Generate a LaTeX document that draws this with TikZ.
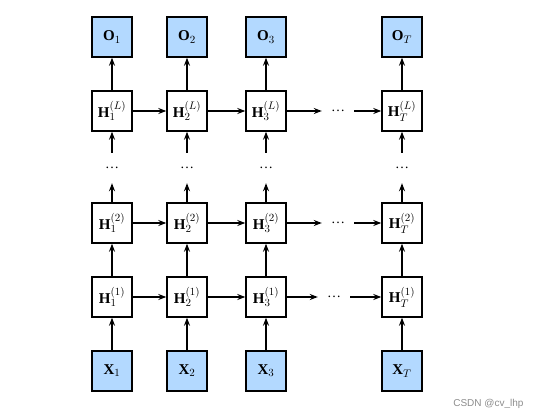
\documentclass[tikz,border=0pt]{standalone}
\usepackage{fontspec}
\setmainfont{Liberation Serif}
\newfontfamily\wmfont{Liberation Sans}
\usetikzlibrary{arrows.meta}
\definecolor{iofill}{RGB}{179,217,255}
\begin{document}
\begin{tikzpicture}[x=1pt,y=-1pt,
  box/.style={draw,line width=1.4pt,minimum size=40pt,inner sep=0pt,fill=white,font=\fontsize{15}{17}\selectfont},
  io/.style={box,fill=iofill},
  arr/.style={-{Stealth[length=8pt,width=6pt]},line width=1.2pt},
  hdots/.style={inner sep=0pt,minimum width=32pt,minimum height=10pt,font=\fontsize{14}{16}\selectfont},
  vdots/.style={inner sep=0pt,minimum height=30pt,minimum width=10pt,font=\fontsize{14}{16}\selectfont}]
\useasboundingbox (0,0) rectangle (542,418);
% columns
\foreach \c/\x/\s in {1/112/1,2/187/2,3/266/3,T/402/T}{
  \node[io]  (O\c)  at (\x,37)  {$\mathbf{O}_{\s}$};
  \node[box] (HL\c) at (\x,111) {$\mathbf{H}_{\s}^{(L)}$};
  \node[vdots] (D\c) at (\x,168) {\dots};
  \node[box] (H2\c) at (\x,223) {$\mathbf{H}_{\s}^{(2)}$};
  \node[box] (H1\c) at (\x,297) {$\mathbf{H}_{\s}^{(1)}$};
  \node[io]  (X\c)  at (\x,371) {$\mathbf{X}_{\s}$};
  \draw[arr] (X\c) -- (H1\c);
  \draw[arr] (H1\c) -- (H2\c);
  \draw[arr] (H2\c) -- (D\c);
  \draw[arr] (D\c) -- (HL\c);
  \draw[arr] (HL\c) -- (O\c);
}
% horizontal dots
\node[hdots] (RL) at (338,111) {\dots};
\node[hdots] (R2) at (338,223) {\dots};
\node[hdots] (R1) at (334,297) {\dots};
\foreach \r/\R in {HL/RL,H2/R2,H1/R1}{
  \draw[arr] (\r1) -- (\r2);
  \draw[arr] (\r2) -- (\r3);
  \draw[arr] (\r3) -- (\R);
  \draw[arr] (\R) -- (\r T);
}
\node[text=black!45,font=\wmfont\fontsize{10}{12}\selectfont,anchor=east] (wm) at (527,404) {CSDN @cv\_lhp};
\end{tikzpicture}
\end{document}
